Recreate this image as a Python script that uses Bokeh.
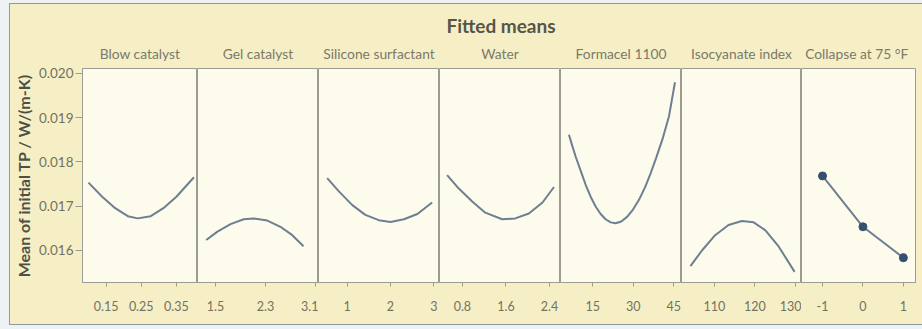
from bokeh.plotting import figure
from bokeh.models import Range1d, FixedTicker, Div
from bokeh.layouts import row, column
from bokeh.embed import file_html
from bokeh.resources import INLINE

# ---------------- data ----------------
y_ticks = [0.016, 0.017, 0.018, 0.019, 0.020]
y_tick_labels = ["0.016", "0.017", "0.018", "0.019", "0.020"]

panel_names = ["Blow catalyst", "Gel catalyst", "Silicone surfactant", "Water",
               "Formacel 1100", "Isocyanate index", "Collapse at  75 \u00b0F"]

blow_x = [0.10, 0.139, 0.176, 0.212, 0.240, 0.277, 0.313, 0.350, 0.400]
blow_y = [0.01753, 0.01721, 0.01695, 0.01677, 0.01672, 0.01677, 0.01695, 0.01721, 0.01765]
blow_ticks = [0.15, 0.25, 0.35]
blow_labels = ["0.15", "0.25", "0.35"]

gel_x = [1.35, 1.53, 1.74, 1.95, 2.11, 2.33, 2.54, 2.73, 2.91]
gel_y = [0.01623, 0.01642, 0.01659, 0.01670, 0.01672, 0.01667, 0.01653, 0.01634, 0.01609]
gel_ticks = [1.5, 2.3, 3.1]
gel_labels = ["1.5", "2.3", "3.1"]

sil_x = [0.54, 0.81, 1.12, 1.42, 1.73, 2.00, 2.31, 2.62, 2.96]
sil_y = [0.01763, 0.01733, 0.01702, 0.01680, 0.01668, 0.01664, 0.01670, 0.01682, 0.01708]
sil_ticks = [1, 2, 3]
sil_labels = ["1", "2", "3"]

water_x = [0.52, 0.73, 0.98, 1.22, 1.53, 1.77, 2.02, 2.27, 2.48]
water_y = [0.01770, 0.01740, 0.01710, 0.01685, 0.01670, 0.01672, 0.01683, 0.01708, 0.01743]
water_ticks = [0.8, 1.6, 2.4]
water_labels = ["0.8", "1.6", "2.4"]

form_x = [6.23, 7.47, 8.70, 10.56, 12.41, 14.26, 16.11, 17.96, 19.81, 21.67, 23.52,
          25.62, 27.84, 29.94, 32.16, 34.38, 36.48, 38.58, 40.80, 43.27, 45.49]
form_y = [0.01861, 0.01836, 0.01812, 0.01780, 0.01748, 0.01721, 0.01699, 0.01682,
          0.01670, 0.01663, 0.01661, 0.01665, 0.01676, 0.01692, 0.01714, 0.01742,
          0.01774, 0.01810, 0.01850, 0.01903, 0.01980]
form_ticks = [15, 30, 45]
form_labels = ["15", "30", "45"]

iso_x = [104.1, 107.0, 110.2, 113.5, 116.8, 119.7, 122.6, 125.9, 129.8]
iso_y = [0.01564, 0.01600, 0.01634, 0.01657, 0.01666, 0.01663, 0.01645, 0.01608, 0.01551]
iso_ticks = [110, 120, 130]
iso_labels = ["110", "120", "130"]

collapse_x = [-1, 0, 1]
collapse_y = [0.01768, 0.01653, 0.01583]
collapse_ticks = [-1, 0, 1]
collapse_labels = ["-1", "0", "1"]

# ---------------- styling ----------------
Y_RANGE = (0.01527, 0.02011)
X_RANGES = [(0.083, 0.410), (1.21, 3.15), (0.34, 3.13), (0.38, 2.60),
            (3.1, 47.9), (101.9, 131.5), (-1.52, 1.30)]
WIDTHS = [187, 121, 121, 121, 121, 120, 118]

OUTER_BG = "#f6efc6"
PANEL_BG = "#fcfbec"
FRAME_C = "#9c9c92"
TEXT_C = "#72725f"
LINE_C = "#6f7e90"
FONT = "Lato"

series = [(blow_x, blow_y, blow_ticks, blow_labels),
          (gel_x, gel_y, gel_ticks, gel_labels),
          (sil_x, sil_y, sil_ticks, sil_labels),
          (water_x, water_y, water_ticks, water_labels),
          (form_x, form_y, form_ticks, form_labels),
          (iso_x, iso_y, iso_ticks, iso_labels),
          (collapse_x, collapse_y, collapse_ticks, collapse_labels)]

figs = []
n = len(series)
for i, (xs, ys, ticks, labels) in enumerate(series):
    first = i == 0
    last = i == n - 1
    p = figure(width=WIDTHS[i], height=290,
               x_range=Range1d(*X_RANGES[i]), y_range=Range1d(*Y_RANGE),
               output_backend="svg", toolbar_location=None,
               title=panel_names[i],
               min_border_top=34, min_border_bottom=42,
               min_border_left=67 if first else 0,
               min_border_right=4 if last else 0)
    p.background_fill_color = PANEL_BG
    p.border_fill_color = OUTER_BG
    p.outline_line_color = FRAME_C
    p.outline_line_width = 1
    p.grid.visible = False

    p.title.align = "center"
    p.title.text_font = FONT
    p.title.text_font_size = "13.8px"
    p.title.text_font_style = "normal"
    p.title.text_color = "#7a796a"
    p.title.standoff = 13

    xa = p.xaxis[0]
    xa.ticker = FixedTicker(ticks=ticks)
    xa.major_label_overrides = {t: l for t, l in zip(ticks, labels)}
    xa.minor_tick_line_color = None
    xa.major_tick_in = 0
    xa.major_tick_out = 4
    xa.major_tick_line_color = FRAME_C
    xa.axis_line_color = FRAME_C
    xa.major_label_standoff = 14
    xa.major_label_text_font = FONT
    xa.major_label_text_font_size = "12.5px"
    xa.major_label_text_color = TEXT_C

    ya = p.yaxis[0]
    if first:
        ya.ticker = FixedTicker(ticks=y_ticks)
        ya.major_label_overrides = {t: l for t, l in zip(y_ticks, y_tick_labels)}
        ya.minor_tick_line_color = None
        ya.major_tick_in = 0
        ya.major_tick_out = 7
        ya.major_tick_line_color = FRAME_C
        ya.axis_line_color = FRAME_C
        ya.major_label_standoff = 2
        ya.major_label_text_font = FONT
        ya.major_label_text_font_size = "13.5px"
        ya.major_label_text_color = TEXT_C
        ya.axis_label = "Mean of initial TP / W/(m-K)"
        ya.axis_label_text_font = FONT
        ya.axis_label_text_font_size = "16px"
        ya.axis_label_text_font_style = "bold"
        ya.axis_label_text_color = "#4f4f46"
        ya.axis_label_standoff = 3
    else:
        ya.visible = False

    p.line(xs, ys, line_color=LINE_C, line_width=2)
    if last:
        p.scatter(xs, ys, size=8, fill_color="#34506e", line_color="#34506e")
    figs.append(p)

title_div = Div(
    text=('<div style="width:842px; margin-left:70px; padding-top:10px; text-align:center; '
          'font-family:Lato; font-weight:bold; font-size:19px; line-height:23px; color:#55554a;">'
          'Fitted means</div>'),
    width=912, height=30, margin=(0, 0, 0, 0))

inner = column(title_div, row(*figs), margin=(4, 0, 0, 10),
               styles={"background-color": OUTER_BG, "outline": "1px solid #8d9ba7"})
outer = column(inner, width=922, height=329, styles={"background-color": "#eef2f5"})

open("out.html", "w").write(file_html(outer, INLINE))
